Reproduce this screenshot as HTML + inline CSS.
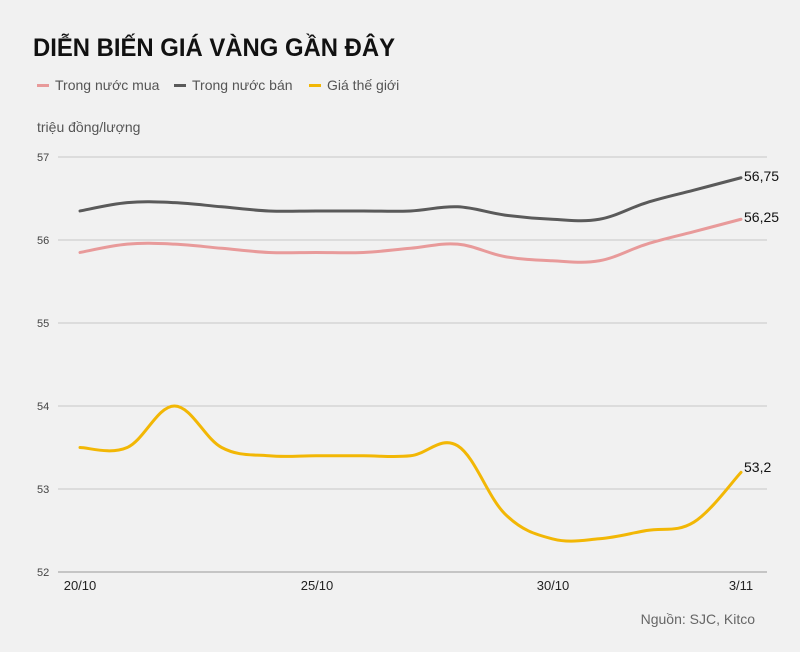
<!DOCTYPE html>
<html><head><meta charset="utf-8"><style>
html,body{margin:0;padding:0;background:#f1f1f1;width:800px;height:652px;overflow:hidden}
svg{display:block;font-family:"Liberation Sans",sans-serif}
</style></head><body>
<svg id="s" width="800" height="652" viewBox="0 0 800 652">
<rect width="800" height="652" fill="#f1f1f1"/>
<text x="33" y="56" font-size="25" font-weight="bold" fill="#111" textLength="362" lengthAdjust="spacingAndGlyphs">DIỄN BIẾN GIÁ VÀNG GẦN ĐÂY</text>
<rect x="37" y="84" width="12" height="3" fill="#e89a9a"/>
<text x="55" y="90" font-size="14" fill="#555">Trong nước mua</text>
<rect x="174" y="84" width="12" height="3" fill="#5a5a5a"/>
<text x="192" y="90" font-size="14" fill="#555">Trong nước bán</text>
<rect x="309" y="84" width="12" height="3" fill="#f2b705"/>
<text x="327" y="90" font-size="14" fill="#555">Giá thế giới</text>
<text x="37" y="132" font-size="14" fill="#555">triệu đồng/lượng</text>
<g font-size="11" fill="#444" stroke="#c8c8c8">
<line x1="58" y1="157" x2="767" y2="157"/><line x1="58" y1="240" x2="767" y2="240"/>
<line x1="58" y1="323" x2="767" y2="323"/><line x1="58" y1="406" x2="767" y2="406"/>
<line x1="58" y1="489" x2="767" y2="489"/><line x1="58" y1="572" x2="767" y2="572" stroke="#999"/>
</g>
<g font-size="11" fill="#444">
<text x="37" y="161">57</text><text x="37" y="244">56</text><text x="37" y="327">55</text>
<text x="37" y="410">54</text><text x="37" y="493">53</text><text x="37" y="576">52</text>
</g>
<g font-size="13" fill="#222" text-anchor="middle">
<text x="80" y="590">20/10</text><text x="317" y="590">25/10</text><text x="553" y="590">30/10</text><text x="741" y="590">3/11</text>
</g>
<g id="lines" fill="none" stroke-width="3" stroke-linecap="round"></g>
<g font-size="14" fill="#111">
<text x="744" y="181">56,75</text><text x="744" y="222">56,25</text><text x="744" y="472">53,2</text>
</g>
<text x="755" y="624" font-size="14" fill="#666" text-anchor="end">Nguồn: SJC, Kitco</text>
</svg>
<script>
var sell=[56.35,56.45,56.45,56.4,56.35,56.35,56.35,56.35,56.4,56.3,56.25,56.25,56.45,56.6,56.75];
var buy=[55.85,55.95,55.95,55.9,55.85,55.85,55.85,55.9,55.95,55.8,55.75,55.75,55.95,56.1,56.25];
var w=[53.5,53.5,54.0,53.5,53.4,53.4,53.4,53.4,53.52,52.7,52.4,52.4,52.5,52.6,53.2];
function pts(a){return a.map(function(v,i){return [80+i*661/14,157+(57-v)*83];});}
function path(p){var d="M"+p[0][0]+","+p[0][1];for(var i=0;i<p.length-1;i++){var p0=p[i-1]||p[i],p1=p[i],p2=p[i+1],p3=p[i+2]||p2;var t=0.18;
d+=" C"+(p1[0]+(p2[0]-p0[0])*t)+","+(p1[1]+(p2[1]-p0[1])*t)+" "+(p2[0]-(p3[0]-p1[0])*t)+","+(p2[1]-(p3[1]-p1[1])*t)+" "+p2[0]+","+p2[1];}return d;}
var g=document.getElementById("lines");
[[buy,"#e89a9a"],[sell,"#5a5a5a"],[w,"#f2b705"]].forEach(function(s){var e=document.createElementNS("http://www.w3.org/2000/svg","path");e.setAttribute("d",path(pts(s[0])));e.setAttribute("stroke",s[1]);g.appendChild(e);});
</script>
</body></html>
